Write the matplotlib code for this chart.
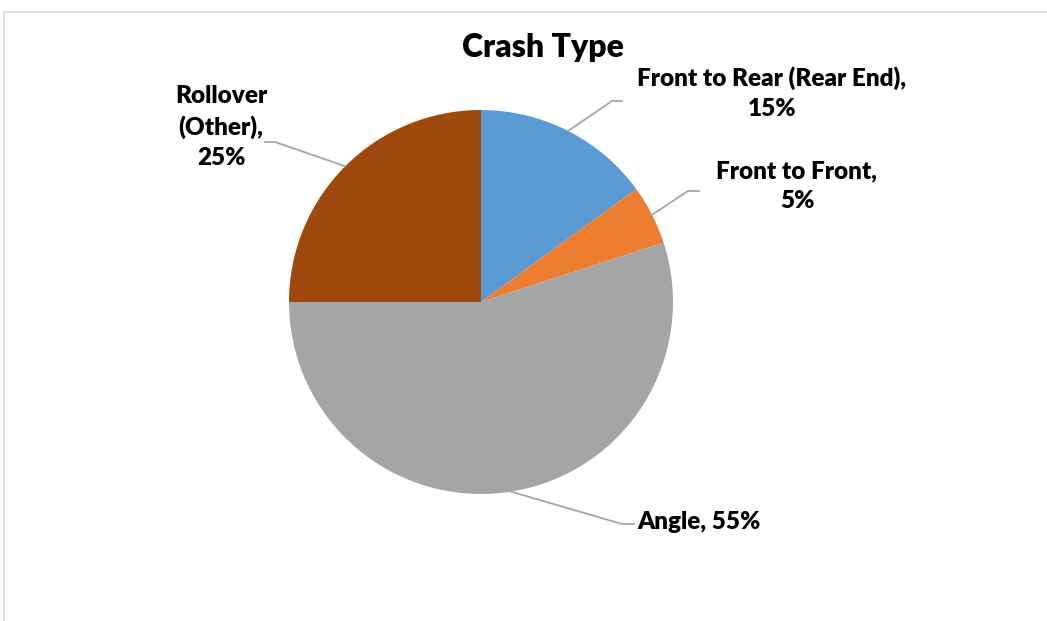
import matplotlib
matplotlib.use("Agg")
import matplotlib.pyplot as plt
from matplotlib.patches import Rectangle
import numpy as np

# data
categories = ["Front to Rear (Rear End)", "Front to Front", "Angle", "Rollover (Other)"]
shares = [15, 5, 55, 25]
colors = ["#5B9BD5", "#ED7D31", "#A5A5A5", "#9E480E"]
label_texts = ["Front to Rear (Rear End),\n15%", "Front to Front,\n5%",
               "Angle, 55%", "Rollover\n(Other),\n25%"]

W, H = 1047, 621
plt.rcParams['font.family'] = ['Lato', 'DejaVu Sans']

fig = plt.figure(figsize=(W / 100, H / 100), dpi=100)
ax = fig.add_axes([0, 0, 1, 1])

# chart frame (cut at right edge like the screenshot)
ax.add_patch(Rectangle((4, -10), W + 20, H - 12 + 10, fill=False,
                       edgecolor="#D9D9D9", lw=1.2))

cx, cy, r = 481, H - 302, 192
wedges, _ = ax.pie(shares, colors=colors, startangle=90, counterclock=False,
                   center=(cx, cy), radius=r, frame=True,
                   wedgeprops=dict(edgecolor='none'))
ax.set_xlim(0, W)
ax.set_ylim(0, H)
ax.set_aspect('equal')
ax.axis('off')

ax.text(543, H - 47, "Crash Type", ha='center', va='center',
        fontsize=23, fontweight='heavy')

# label placement: elbow point, line end, text anchor
layout = [
    ((612, H - 101), (622, H - 101), (772, H - 93), 'center'),
    ((688, H - 191), (699, H - 191), (797, H - 186), 'center'),
    ((622, H - 524), (634, H - 524), (637, H - 522), 'left'),
    ((275, H - 142), (265, H - 142), (221, H - 127), 'center'),
]
for w, txt, (p1, p2, tp, ha) in zip(wedges, label_texts, layout):
    ang = np.deg2rad((w.theta1 + w.theta2) / 2)
    x0 = cx + r * np.cos(ang)
    y0 = cy + r * np.sin(ang)
    ax.plot([x0, p1[0], p2[0]], [y0, p1[1], p2[1]], color="#A6A6A6", lw=1.3)
    ax.text(tp[0], tp[1], txt, ha=ha, va='center', fontsize=17.5,
            fontweight='heavy', multialignment='center', linespacing=1.45)

fig.savefig("out.png", dpi=100)
